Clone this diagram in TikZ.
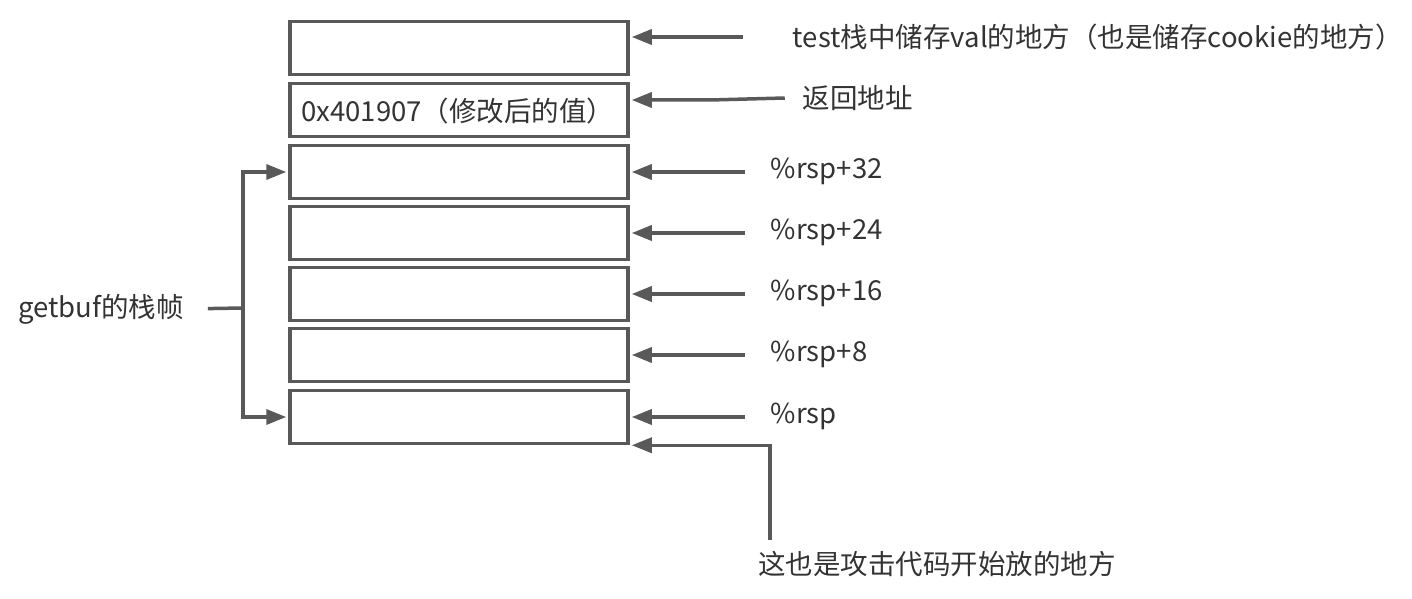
\documentclass[tikz,border=0pt]{standalone}
\usepackage{fontspec}
\setmainfont{Noto Sans CJK SC}
\usetikzlibrary{arrows.meta, calc}
\definecolor{linegray}{HTML}{595959}
\definecolor{textgray}{HTML}{333333}

\begin{document}
\begin{tikzpicture}[x=1pt, y=-1pt,
	cell/.style={draw=linegray, line width=3.5pt, minimum width=338pt, minimum height=53pt, inner sep=0pt},
	lbl/.style={text=textgray, inner sep=0pt, anchor=west, font=\fontsize{27.5pt}{31pt}\selectfont},
	link/.style={draw=linegray, line width=3.5pt},
	ptr/.style={link, -{Triangle[length=20pt, width=15pt]}, shorten >=2pt}]
\useasboundingbox (0,0) rectangle (1412,599);

	% --- draw the stack cells
	\foreach \i/\y in {1/48, 2/110, 3/172, 4/233, 5/294, 6/355, 7/417}
	\node[cell] (b\i) at (459,\y) {};

	\node[lbl] (val) at ($(b2.west)+(13,1)$) {0x401907（修改后的值）};

	% --- top two pointers sit above the cell centre
	\coordinate (a1) at ($(b1.east)+(113,-11)$);
	\node[lbl] (l1) at ($(a1)+(50,0)$) {test栈中储存val的地方（也是储存cookie的地方）};
	\draw[ptr] (a1) -- ($(b1.east)+(0,-11)$);

	\coordinate (a2) at ($(b2.east)+(155,-12)$);
	\coordinate (k2) at ($(b2.east)+(80,-10)$);
	\node[lbl] (l2) at ($(a2)+(18,0)$) {返回地址};
	\draw[ptr] (a2) -- (k2) -- ($(b2.east)+(0,-10)$);

	% --- offsets from %rsp
	\foreach \i/\txt in {
		3/{\%rsp+32},
		4/{\%rsp+24},
		5/{\%rsp+16},
		6/{\%rsp+8},
		7/{\%rsp}} {
		\coordinate (a\i) at ($(b\i.east)+(115,0)$);
		\node[lbl] (l\i) at ($(a\i)+(26,-1)$) {\txt};
		\draw[ptr] (a\i) -- (b\i.east);
	}

	% --- attack code start
	\coordinate (c) at (770,540);
	\node[lbl] (code) at (758,564) {这也是攻击代码开始放的地方};
	\draw[ptr] (c) |- (b7.south east);

	% --- getbuf frame bracket
	\node[lbl] (frame) at (18,309) {getbuf的栈帧};
	\coordinate (fj) at (243,308);
	\draw[link, shorten <=24pt] (frame.east) -- (fj);
	\draw[ptr] (fj) |- (b3.west);
	\draw[ptr] (fj) |- (b7.west);
\end{tikzpicture}
\end{document}
